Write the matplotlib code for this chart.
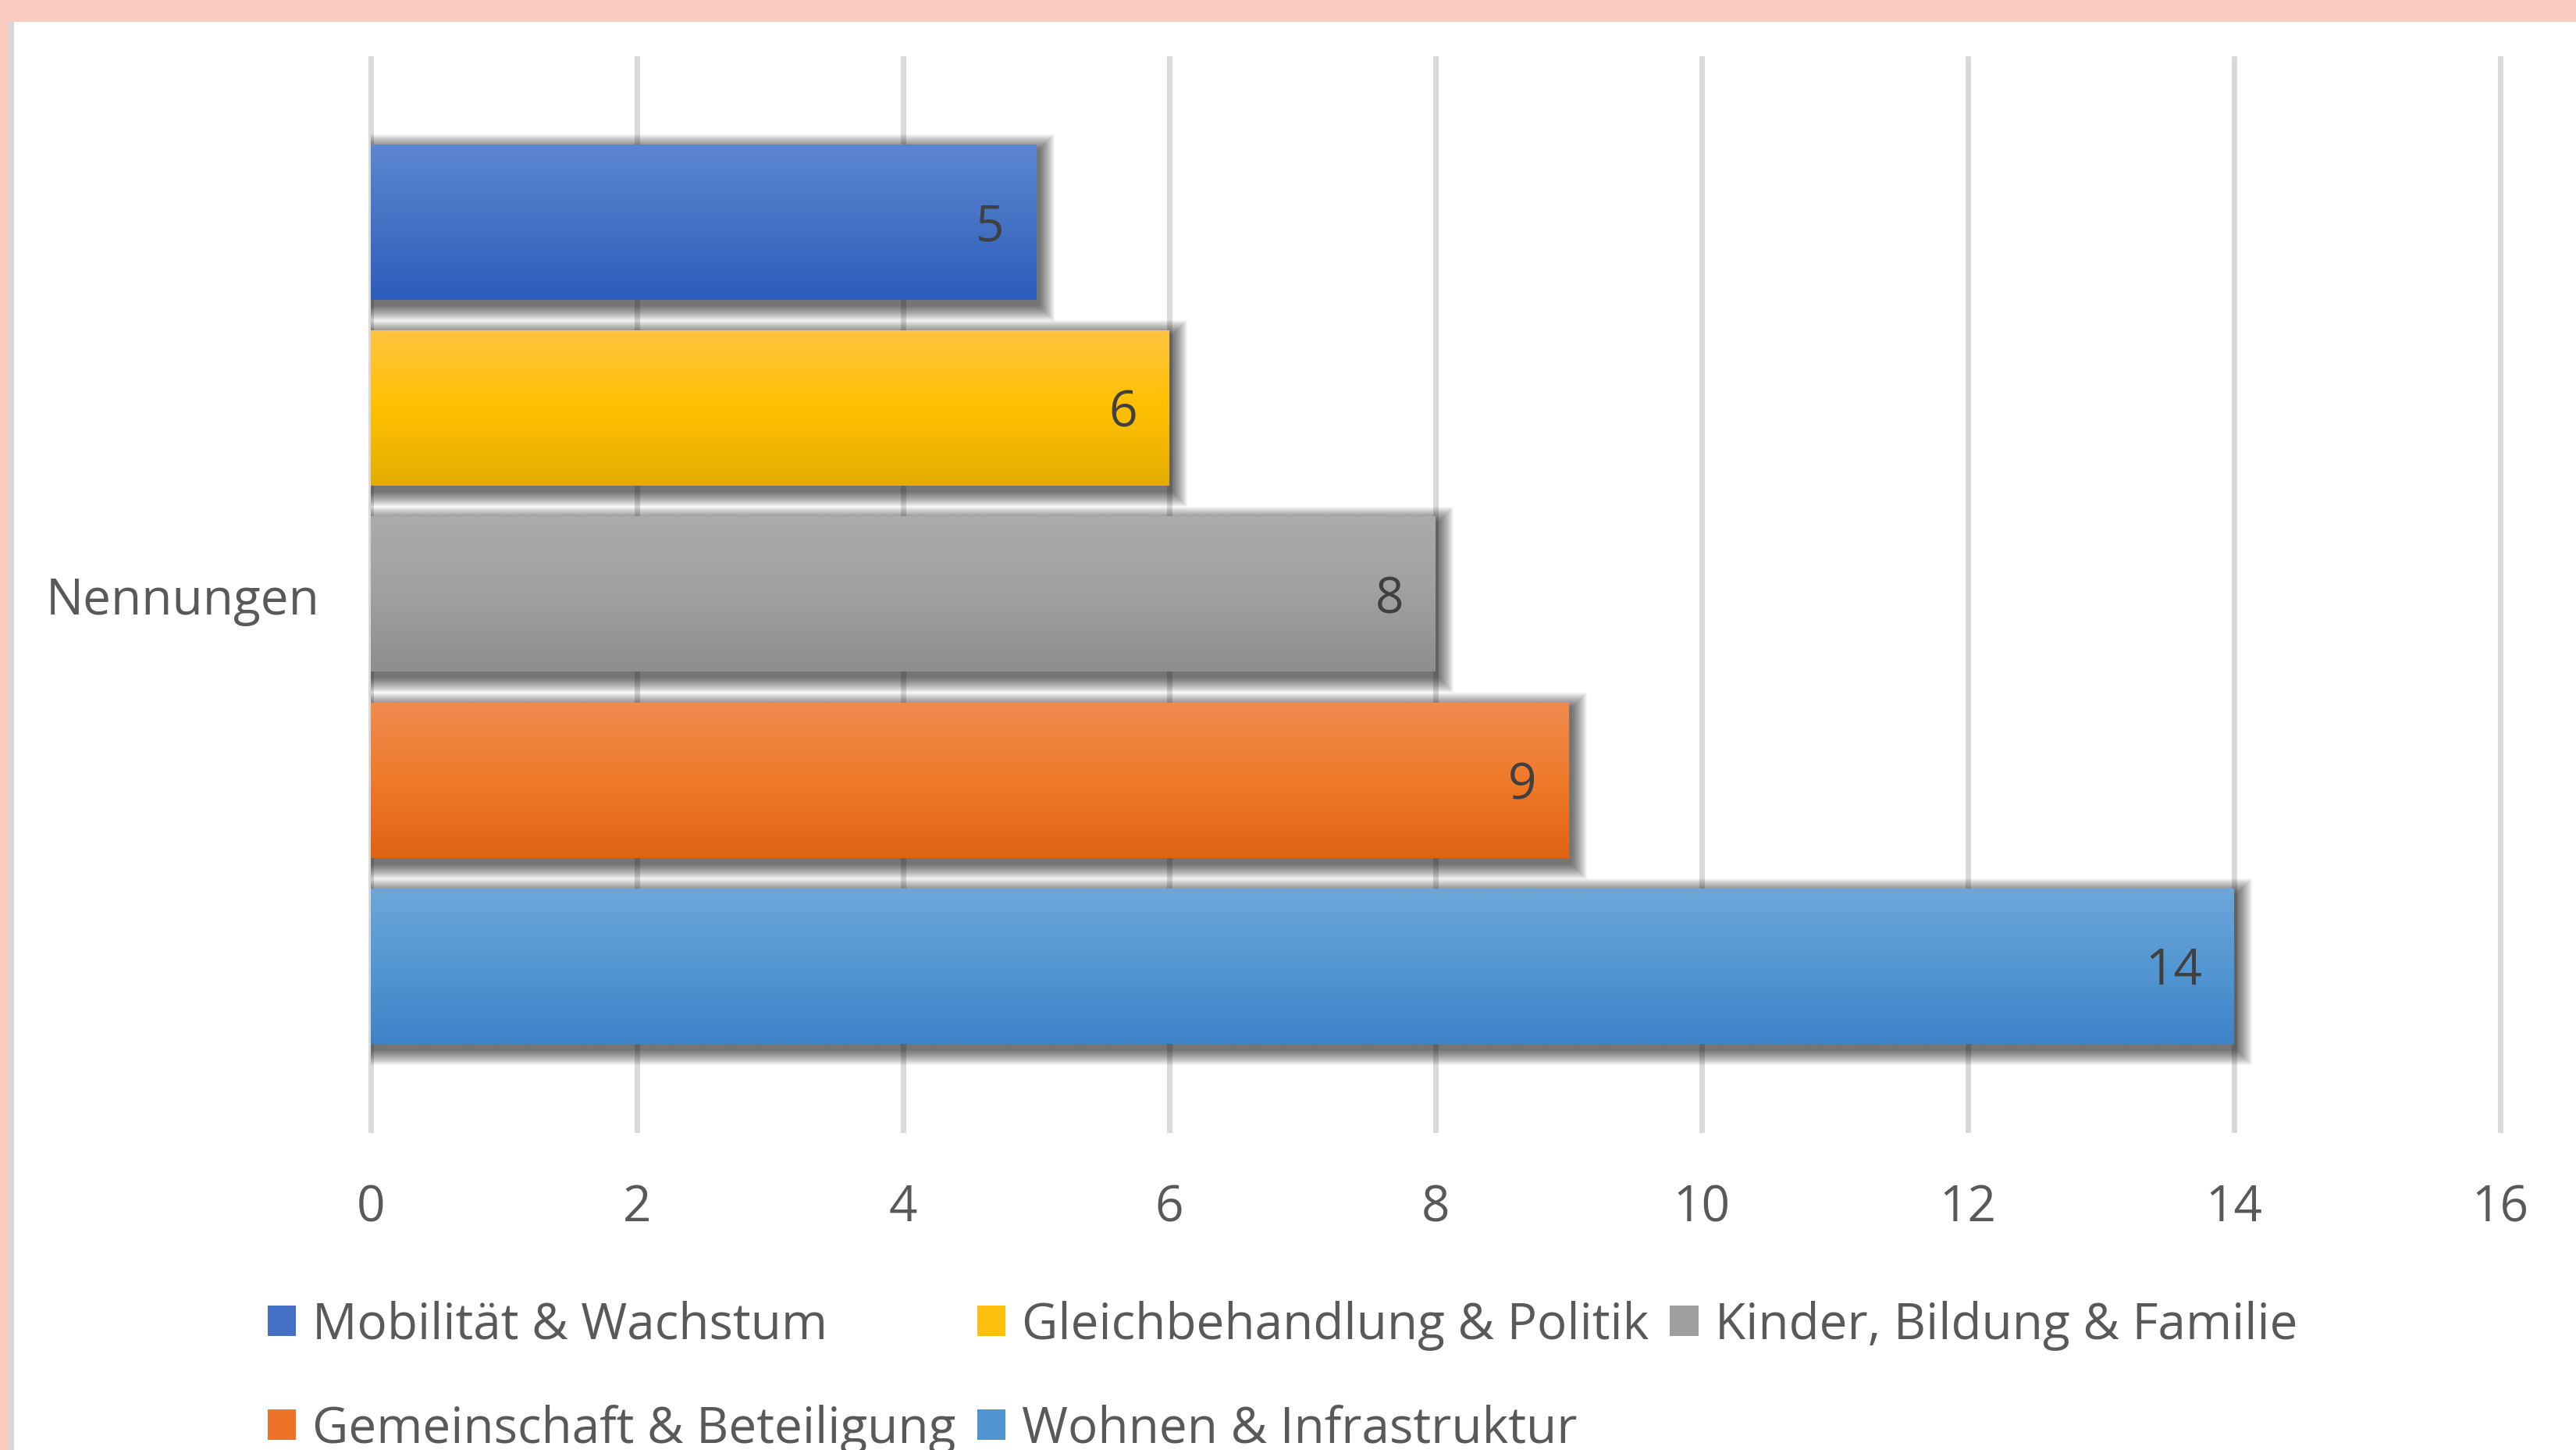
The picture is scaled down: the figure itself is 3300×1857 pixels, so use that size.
import numpy as np
import matplotlib
matplotlib.use("Agg")
import matplotlib.pyplot as plt
from matplotlib.patches import Rectangle, Patch
from matplotlib.colors import to_rgb


# =========================
# DATA
# =========================
categories = [
    "Mobilität & Wachstum",
    "Gleichbehandlung & Politik",
    "Kinder, Bildung & Familie",
    "Gemeinschaft & Beteiligung",
    "Wohnen & Infrastruktur",
]
values = [5, 6, 8, 9, 14]
group_label = "Nennungen"
x_ticks = [0, 2, 4, 6, 8, 10, 12, 14, 16]

# gradient colours (top -> middle -> bottom of each bar)
colors_top = ["#5d86d0", "#ffc440", "#ababab", "#f08b4f", "#6ea6da"]
colors_mid = ["#4472c4", "#ffc000", "#a0a0a0", "#ef7a2a", "#5397d2"]
colors_bottom = ["#2d5dbd", "#e2ae00", "#8e8e8e", "#de6414", "#3d83c7"]
legend_colors = ["#4470c6", "#fdc00f", "#9e9e9e", "#ec7327", "#5094d0"]


# =========================
# FIGURE + BACKGROUND
# =========================
W, H = 3300, 1858
plt.rcParams["font.family"] = ["Open Sans", "DejaVu Sans"]
FS = 46

fig = plt.figure(figsize=(W / 100, H / 100), dpi=100)
fig.patch.set_facecolor("#f9cbc1")
fig.add_artist(Rectangle((18 / W, 0), 1, 1 - 29 / H, transform=fig.transFigure,
                         facecolor="white", edgecolor="none", zorder=0))
fig.add_artist(Rectangle((11 / W, 0), 7 / W, 1 - 29 / H, transform=fig.transFigure,
                         facecolor="#d9d9d9", edgecolor="none", zorder=0))

ax_l, ax_r, ax_t, ax_b = 475, 3203, 76, 1448
ax = fig.add_axes([ax_l / W, 1 - ax_b / H, (ax_r - ax_l) / W, (ax_b - ax_t) / H])
ax.set_facecolor("none")

n = len(values)
ypos = np.arange(n)[::-1] - (n - 1) / 2
bar_h = 0.836
ylim = (-2.882, 2.882)
xlim = (0, 16)

# px -> data helpers (for shadow size / label nudges)
sx = (xlim[1] - xlim[0]) / (ax_r - ax_l)
sy = (ylim[1] - ylim[0]) / (ax_b - ax_t)

# =========================
# BARS
# =========================
t = np.linspace(0, 1, 128)[:, None]
for y, v, ct, cm, cb in zip(ypos, values, colors_top, colors_mid, colors_bottom):
    # soft drop shadow
    ox, oy = 3, 7
    for e in range(1, 21):
        ax.add_patch(Rectangle((-e * sx + ox * sx, y - bar_h / 2 - e * sy - oy * sy),
                               v + 2 * e * sx, bar_h + 2 * e * sy,
                               facecolor="black", alpha=0.036, lw=0, zorder=2))
    # vertical gradient fill (3 stops)
    top, mid, bot = (np.array(to_rgb(c)) for c in (ct, cm, cb))
    grad = np.where(t < 0.5, top + (mid - top) * (t / 0.5), mid + (bot - mid) * ((t - 0.5) / 0.5))
    ax.imshow(grad[:, None, :], extent=[0, v, y - bar_h / 2, y + bar_h / 2],
              aspect="auto", origin="upper", zorder=3, interpolation="bilinear")
    ax.text(v - 0.24, y - 6 * sy, str(v), ha="right", va="center",
            fontsize=FS, color="#404040", zorder=4)

ax.set_xlim(*xlim)
ax.set_ylim(*ylim)

# =========================
# AXES STYLE
# =========================
ax.set_xticks(x_ticks)
ax.set_xticklabels([str(t) for t in x_ticks])
ax.set_yticks([0])
ax.set_yticklabels([group_label])
ax.tick_params(axis="x", length=0, pad=48.5, labelsize=FS, labelcolor="#595959")
ax.tick_params(axis="y", length=0, pad=47, labelsize=FS, labelcolor="#595959")
ax.grid(axis="x", color="#d9d9d9", linewidth=5)
ax.set_axisbelow(True)
for gl in ax.get_xgridlines():
    gl.set_clip_on(False)
for s in ax.spines.values():
    s.set_visible(False)

# =========================
# LEGEND (row-major order)
# =========================
handles = [Patch(facecolor=c, edgecolor="none", label=l)
           for c, l in zip(legend_colors, categories)]
order = [0, 3, 1, 4, 2]
fig.legend([handles[i] for i in order], [categories[i] for i in order],
           loc="upper left", bbox_to_anchor=(343 / W, 1 - 1666 / H),
           ncol=3, frameon=False, fontsize=FS, labelcolor="#595959",
           handlelength=0.57, handleheight=0.57, handletextpad=0.33,
           columnspacing=0.42, labelspacing=1.08, borderpad=0, borderaxespad=0)

fig.savefig("out.png", dpi=100, facecolor=fig.get_facecolor())
